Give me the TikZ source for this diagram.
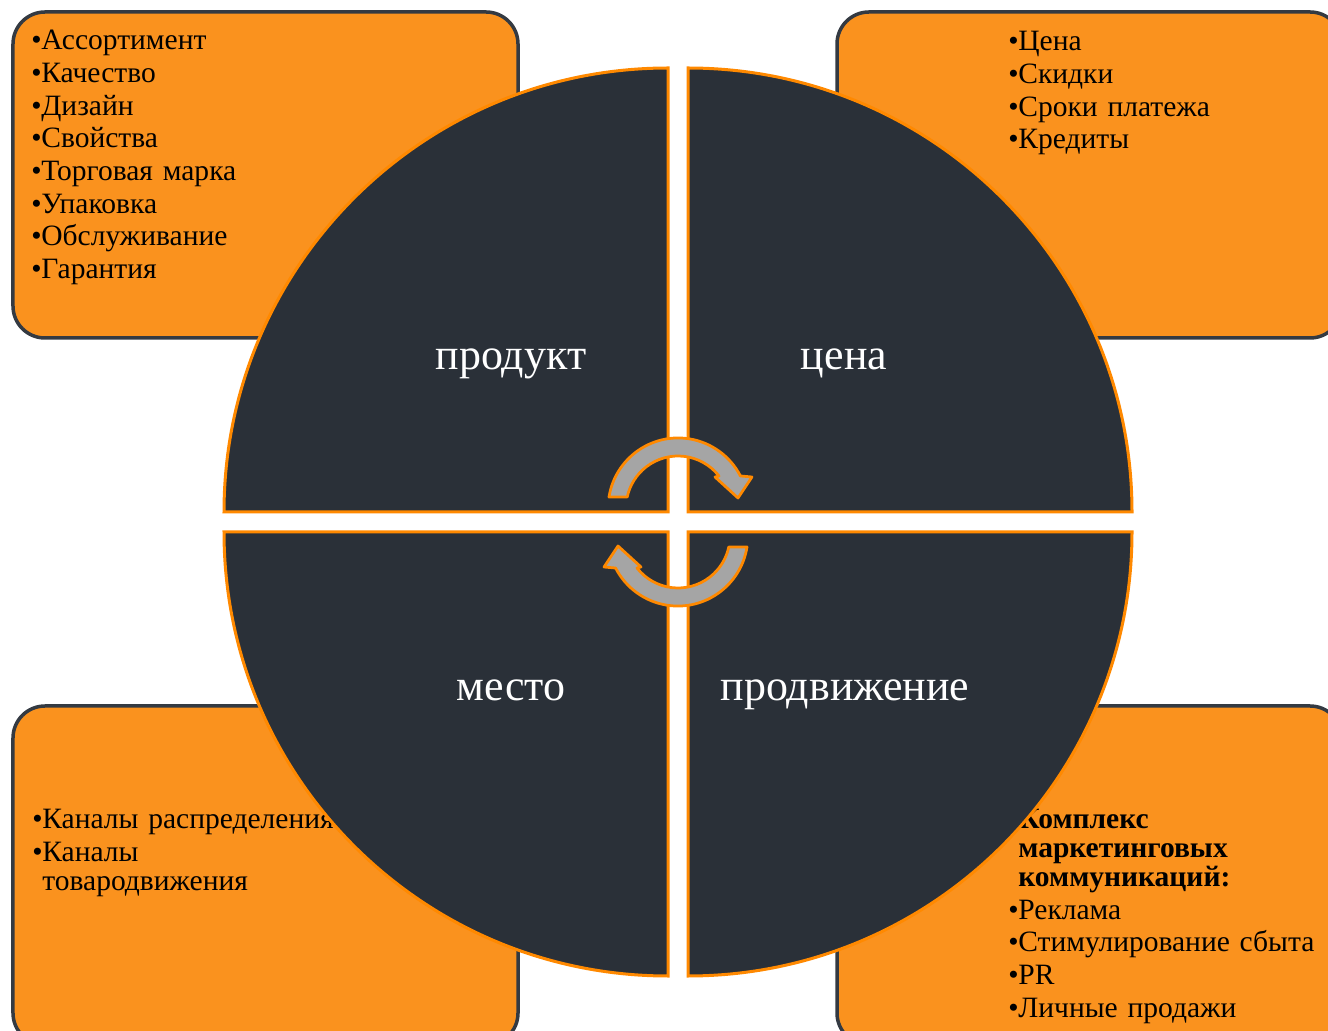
\documentclass[tikz,border=0pt]{standalone}
\usepackage{fontspec}
\setmainfont{Liberation Serif}
\usetikzlibrary{positioning, calc}
\definecolor{boxorange}{RGB}{250,146,30}
\definecolor{rimorange}{RGB}{255,137,0}
\definecolor{slate}{RGB}{42,48,56}
\definecolor{boxedge}{RGB}{52,58,66}
\definecolor{arrowgray}{RGB}{165,165,165}
\tikzstyle{infobox} = [rectangle, rounded corners=6.4mm, minimum width=101mm, minimum height=65.2mm, draw=boxedge, line width=0.7mm, fill=boxorange]
\tikzstyle{quadrant} = [fill=slate, draw=rimorange, line width=0.6mm]
\tikzstyle{caption} = [text=white, anchor=base, font=\fontsize{25}{30}\selectfont]
\tikzstyle{itemlist} = [anchor=north west, inner sep=0pt, text width=100mm, font=\fontsize{16.8}{16.4}\selectfont, execute at begin node={\setlength{\parskip}{2.2pt}\rightskip=0pt plus 1fil\relax}]
\tikzstyle{cyclearrow} = [fill=arrowgray, draw=rimorange, line width=0.55mm, line join=round]
\newcommand{\itm}[1]{\hangindent=2mm\hangafter=1\noindent\makebox[2mm][l]{•}#1\par}
\newcommand{\itmb}[1]{\hangindent=2mm\hangafter=0\noindent\textbf{#1}\par}

\begin{document}
\begin{tikzpicture}[x=0.2mm, y=-0.2mm]
\useasboundingbox (0,0) rectangle (1328,1031);
% boxes behind the circle
\node (prodbox) [infobox] at (265.5,175) {};
\node (pricebox) [infobox] at (1089.5,175) {};
\node (placebox) [infobox, minimum height=67.8mm] at (265.5,875.5) {};
\node (promobox) [infobox, minimum height=67.8mm] at (1089.5,875.5) {};

\node (prodlist) [itemlist] at (31,30) {\itm{Ассортимент}\itm{Качество}\itm{Дизайн}\itm{Свойства}\itm{Торговая марка}\itm{Упаковка}\itm{Обслуживание}\itm{Гарантия}};
\node (pricelist) [itemlist] at (1008,31) {\itm{Цена}\itm{Скидки}\itm{Сроки платежа}\itm{Кредиты}};
\node (placelist) [itemlist] at (32,809) {\itm{Каналы распределения}\itm{Каналы\newline товародвижения}};
\node (promolist) [itemlist] at (1008,809) {\itmb{Комплекс\newline маркетинговых\newline коммуникаций:}\itm{Реклама}\itm{Стимулирование сбыта}\itm{PR}\itm{Личные продажи}};

% four quarters
\draw[quadrant] (668,512) -- (224,512) arc[start angle=-180, end angle=-90, radius=444] -- cycle;
\draw[quadrant] (688,512) -- (688,68) arc[start angle=-90, end angle=0, radius=444] -- cycle;
\draw[quadrant] (668,532) -- (668,976) arc[start angle=90, end angle=180, radius=444] -- cycle;
\draw[quadrant] (688,532) -- (1132,532) arc[start angle=0, end angle=90, radius=444] -- cycle;

% cycle arrows
\draw[cyclearrow] (609,497) arc[start angle=-171, end angle=-27.2, radius=70] -- (752,477) -- (738,498) -- (715,477) -- (719,476) arc[start angle=-38, end angle=-167.8, radius=52] -- cycle;
\begin{scope}[rotate around={180:(678,522)}]
\draw[cyclearrow] (609,497) arc[start angle=-171, end angle=-27.2, radius=70] -- (752,477) -- (738,498) -- (715,477) -- (719,476) arc[start angle=-38, end angle=-167.8, radius=52] -- cycle;
\end{scope}

\node (prodlabel) [caption] at (511,370) {продукт};
\node (pricelabel) [caption] at (844,370) {цена};
\node (placelabel) [caption] at (511,701) {место};
\node (promolabel) [caption] at (845,701) {продвижение};
\end{tikzpicture}
\end{document}
